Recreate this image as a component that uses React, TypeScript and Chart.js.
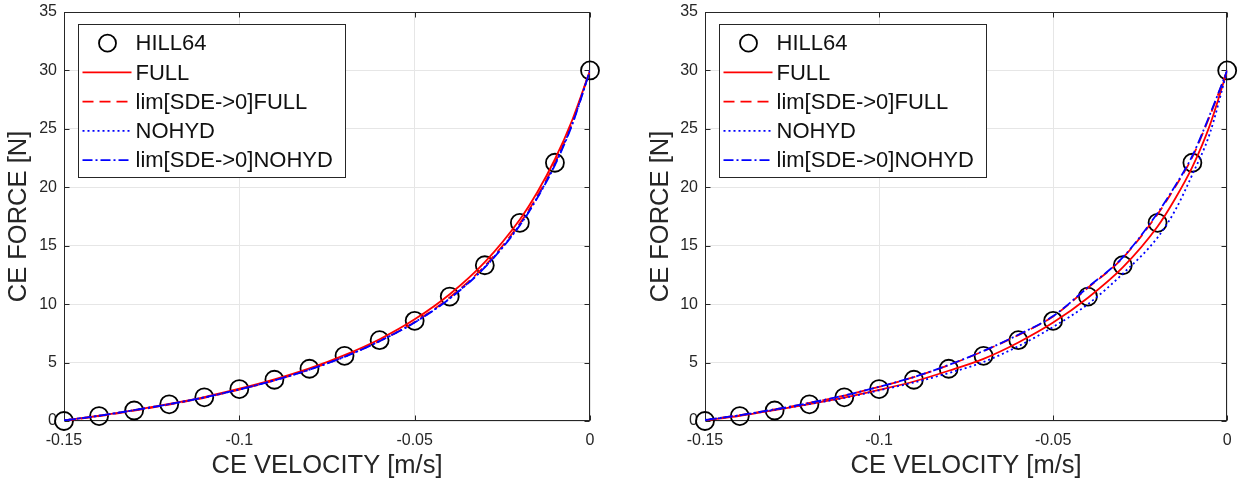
import React, { useEffect, useRef } from "react";
import { Chart, registerables } from "chart.js";

Chart.register(...registerables);

const FONT = "'Liberation Sans', Arial, Helvetica, sans-serif";
const TEXT = "#262626";
const GRID = "#e6e6e6";

// ---- axes ----
const X_TICKS = [-0.15, -0.1, -0.05, 0];
const X_TICK_LABELS = ["-0.15", "-0.1", "-0.05", "0"];
const Y_TICKS = [0, 5, 10, 15, 20, 25, 30, 35];
const X_TITLE = "CE VELOCITY [m/s]";
const Y_TITLE = "CE FORCE [N]";

// ---- legend ----
const LEGEND_LABELS = ["HILL64", "FULL", "lim[SDE->0]FULL", "NOHYD", "lim[SDE->0]NOHYD"];

// ---- HILL64 measured points (both panels) ----
const HILL_V = [-0.15, -0.14, -0.13, -0.12, -0.11, -0.1, -0.09, -0.08, -0.07, -0.06, -0.05, -0.04, -0.03, -0.02, -0.01, 0];
const HILL_F = [0.0, 0.42, 0.9, 1.43, 2.03, 2.73, 3.53, 4.47, 5.58, 6.92, 8.57, 10.65, 13.33, 16.96, 22.1, 30.0];

// ---- model curves, velocity samples ----
const LINE_V = [-0.15, -0.14, -0.13, -0.12, -0.11, -0.1, -0.09, -0.08, -0.07, -0.06, -0.05, -0.04, -0.03, -0.02, -0.015, -0.01, -0.005, 0];

// left panel
const L_FULL = [0.05, 0.45, 0.93, 1.46, 2.05, 2.76, 3.56, 4.5, 5.64, 7.0, 8.7, 10.85, 13.6, 17.25, 19.6, 22.4, 25.8, 30];
const L_LIM_FULL = [0.02, 0.41, 0.89, 1.41, 1.99, 2.69, 3.47, 4.41, 5.52, 6.85, 8.48, 10.58, 13.28, 16.92, 19.28, 22.08, 25.6, 30];
const L_NOHYD = [0.05, 0.45, 0.93, 1.44, 2.02, 2.7, 3.48, 4.4, 5.5, 6.84, 8.45, 10.5, 13.18, 16.8, 19.15, 21.98, 25.5, 30];
const L_LIM_NOHYD = [0.05, 0.45, 0.93, 1.44, 2.02, 2.7, 3.47, 4.39, 5.49, 6.83, 8.43, 10.48, 13.14, 16.74, 19.1, 21.9, 25.42, 30];

// right panel
const R_FULL = [0.05, 0.45, 0.93, 1.44, 2.0, 2.66, 3.38, 4.3, 5.32, 6.72, 8.42, 10.55, 13.15, 16.65, 19.0, 21.75, 25.3, 30];
const R_LIM_FULL = [0.08, 0.5, 1.0, 1.55, 2.18, 2.92, 3.75, 4.78, 5.98, 7.35, 8.95, 11.4, 13.95, 17.7, 20.0, 22.6, 26.1, 30];
const R_NOHYD = [0.1, 0.48, 0.95, 1.45, 1.98, 2.62, 3.3, 4.1, 5.05, 6.4, 8.05, 10.0, 12.6, 15.7, 18.0, 21.1, 24.6, 30];
const R_LIM_NOHYD = [0.08, 0.5, 1.0, 1.55, 2.18, 2.93, 3.76, 4.8, 6.0, 7.38, 8.98, 11.45, 14.0, 17.8, 20.1, 22.7, 26.2, 30];

const CANVAS_W = 619;
const CANVAS_H = 486;

const pts = (xs: number[], ys: number[]) => xs.map((x, i) => ({ x, y: ys[i] }));

const STYLES = [
  { color: "#000000", dash: [] as number[] },
  { color: "#ff0000", dash: [] as number[] },
  { color: "#ff0000", dash: [11, 6] },
  { color: "#0000ff", dash: [2, 3] },
  { color: "#0000ff", dash: [10, 3, 2, 3] },
];

const framePlugin = {
  id: "frame",
  beforeDatasetsDraw(chart: any) {
    const { ctx, chartArea: a, scales } = chart;
    const L = Math.round(a.left) + 0.5;
    const R = Math.round(a.right) - 0.5;
    const T = Math.round(a.top) + 0.5;
    const B = Math.round(a.bottom) - 0.5;
    ctx.save();
    ctx.strokeStyle = TEXT;
    ctx.lineWidth = 1;
    ctx.setLineDash([]);
    ctx.strokeRect(L, T, R - L, B - T);
    const tl = 5;
    ctx.beginPath();
    X_TICKS.forEach((v) => {
      const px = Math.round(scales.x.getPixelForValue(v)) + 0.5;
      ctx.moveTo(px, B);
      ctx.lineTo(px, B - tl);
      ctx.moveTo(px, T);
      ctx.lineTo(px, T + tl);
    });
    Y_TICKS.forEach((v) => {
      const py = Math.round(scales.y.getPixelForValue(v)) + 0.5;
      ctx.moveTo(L, py);
      ctx.lineTo(L + tl, py);
      ctx.moveTo(R, py);
      ctx.lineTo(R - tl, py);
    });
    ctx.stroke();
    ctx.restore();
  },
};

const legendPlugin = {
  id: "boxLegend",
  afterDraw(chart: any) {
    const { ctx, chartArea: a } = chart;
    const bx = Math.round(a.left + 13.5) + 0.5;
    const by = Math.round(a.top + 12.3) + 0.5;
    const bw = 267;
    const bh = 153;
    ctx.save();
    ctx.fillStyle = "#ffffff";
    ctx.fillRect(bx, by, bw, bh);
    ctx.strokeStyle = TEXT;
    ctx.lineWidth = 1;
    ctx.setLineDash([]);
    ctx.strokeRect(bx, by, bw, bh);
    LEGEND_LABELS.forEach((label, i) => {
      const y = by + 18.7 + i * 29.25;
      const st = STYLES[i];
      if (i === 0) {
        ctx.beginPath();
        ctx.setLineDash([]);
        ctx.strokeStyle = st.color;
        ctx.lineWidth = 1.8;
        ctx.arc(bx + 29, y, 8.5, 0, Math.PI * 2);
        ctx.stroke();
      } else {
        ctx.beginPath();
        ctx.setLineDash(st.dash);
        ctx.strokeStyle = st.color;
        ctx.lineWidth = 1.8;
        ctx.moveTo(bx + 4, y);
        ctx.lineTo(bx + 53, y);
        ctx.stroke();
      }
      ctx.setLineDash([]);
      ctx.fillStyle = "#111111";
      ctx.font = `22px ${FONT}`;
      ctx.textAlign = "left";
      ctx.textBaseline = "middle";
      ctx.fillText(label, bx + 57, y + 1);
    });
    ctx.restore();
  },
};

type Geom = { axisWidth: number; rightPad: number; yTitlePad: number };

const zeroPad = (s: any) => {
  s.paddingLeft = 0;
  s.paddingRight = 0;
  s.paddingTop = 0;
  s.paddingBottom = 0;
};

function buildConfig(series: number[][], geom: Geom): any {
  const lineDs = (i: number, ys: number[]) => ({
    label: LEGEND_LABELS[i],
    data: pts(LINE_V, ys),
    showLine: true,
    borderColor: STYLES[i].color,
    backgroundColor: STYLES[i].color,
    borderDash: STYLES[i].dash,
    borderWidth: 1.8,
    pointRadius: 0,
    cubicInterpolationMode: "monotone",
    order: 5 - i,
  });
  return {
    type: "scatter",
    data: {
      datasets: [
        {
          label: LEGEND_LABELS[0],
          data: pts(HILL_V, HILL_F),
          showLine: false,
          pointRadius: 9,
          pointBorderWidth: 1.8,
          pointBorderColor: "#000000",
          pointBackgroundColor: "rgba(0,0,0,0)",
          clip: false,
          order: 5,
        },
        lineDs(1, series[0]),
        lineDs(2, series[1]),
        lineDs(3, series[2]),
        lineDs(4, series[3]),
      ],
    },
    options: {
      animation: false,
      responsive: false,
      devicePixelRatio: 1,
      events: [],
      layout: { padding: { left: 0, right: geom.rightPad, top: 12, bottom: 0 } },
      plugins: { legend: { display: false }, tooltip: { enabled: false } },
      scales: {
        x: {
          type: "linear",
          min: -0.15,
          max: 0,
          afterBuildTicks: (s: any) => {
            s.ticks = X_TICKS.map((v) => ({ value: v }));
          },
          afterFit: (s: any) => {
            s.height = 65;
            zeroPad(s);
          },
          ticks: {
            autoSkip: false,
            maxRotation: 0,
            padding: 10,
            color: TEXT,
            font: { family: FONT, size: 16 },
            callback: (_v: any, i: number) => X_TICK_LABELS[i],
          },
          grid: { color: GRID, lineWidth: 1, drawTicks: false },
          border: { display: false },
          title: {
            display: true,
            text: X_TITLE,
            color: TEXT,
            font: { family: FONT, size: 25.5 },
            padding: { top: 0, bottom: 5 },
          },
        },
        y: {
          type: "linear",
          min: 0,
          max: 35,
          afterBuildTicks: (s: any) => {
            s.ticks = Y_TICKS.map((v) => ({ value: v }));
          },
          afterFit: (s: any) => {
            s.width = geom.axisWidth;
            zeroPad(s);
          },
          ticks: {
            autoSkip: false,
            padding: 7,
            color: TEXT,
            font: { family: FONT, size: 16 },
            callback: (v: any) => String(v),
          },
          grid: { color: GRID, lineWidth: 1, drawTicks: false },
          border: { display: false },
          title: {
            display: true,
            text: Y_TITLE,
            color: TEXT,
            font: { family: FONT, size: 25.5 },
            padding: { top: geom.yTitlePad, bottom: 0 },
          },
        },
      },
    },
    plugins: [framePlugin, legendPlugin],
  };
}

function Panel({ series, geom }: { series: number[][]; geom: Geom }) {
  const ref = useRef<HTMLCanvasElement>(null);
  useEffect(() => {
    const chart = new Chart(ref.current as HTMLCanvasElement, buildConfig(series, geom));
    return () => chart.destroy();
  }, []);
  return (
    <canvas
      ref={ref}
      width={CANVAS_W}
      height={CANVAS_H}
      style={{ display: "block", width: CANVAS_W, height: CANVAS_H }}
    />
  );
}

export default function App() {
  return (
    <div
      style={{
        position: "fixed",
        left: 0,
        top: 0,
        width: 1238,
        height: 486,
        display: "flex",
        background: "#ffffff",
      }}
    >
      <Panel series={[L_FULL, L_LIM_FULL, L_NOHYD, L_LIM_NOHYD]} geom={{ axisWidth: 64, rightPad: 29, yTitlePad: 3.5 }} />
      <Panel series={[R_FULL, R_LIM_FULL, R_NOHYD, R_LIM_NOHYD]} geom={{ axisWidth: 86, rightPad: 8, yTitlePad: 26.6 }} />
    </div>
  );
}
